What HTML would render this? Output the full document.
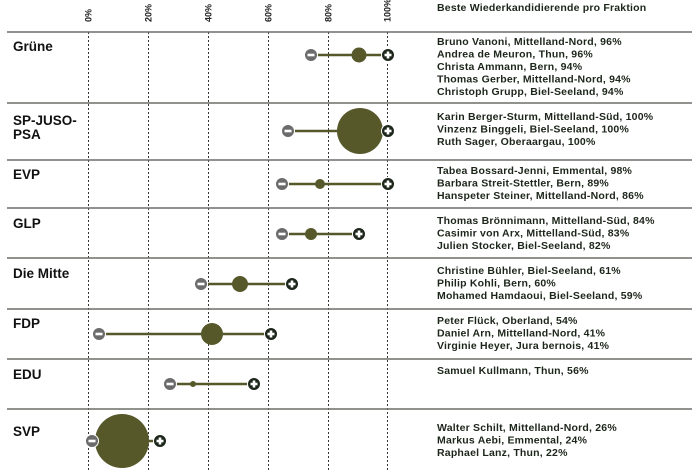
<!DOCTYPE html>
<html><head><meta charset="utf-8"><style>
html,body{margin:0;padding:0;background:#fff;}
svg{display:block;font-family:"Liberation Sans",sans-serif;}
.p{font-size:13.5px;font-weight:bold;fill:#111;}
.n{font-size:10.5px;font-weight:bold;fill:#1d261b;letter-spacing:0.2px;}
.ax{font-size:9px;font-weight:bold;fill:#222;}
</style></head><body>
<svg width="699" height="475" viewBox="0 0 699 475">
<g stroke="#333" stroke-width="1" stroke-dasharray="2,2">
<line x1="88.5" y1="32" x2="88.5" y2="472"/>
<line x1="148.5" y1="32" x2="148.5" y2="472"/>
<line x1="208.5" y1="32" x2="208.5" y2="472"/>
<line x1="268.5" y1="32" x2="268.5" y2="472"/>
<line x1="328.5" y1="32" x2="328.5" y2="472"/>
<line x1="387.5" y1="32" x2="387.5" y2="472"/>
</g>
<g stroke="#6b6f68" stroke-width="1.5">
<line x1="7" y1="32" x2="692" y2="32"/>
<line x1="7" y1="103" x2="692" y2="103"/>
<line x1="7" y1="160" x2="692" y2="160"/>
<line x1="7" y1="208" x2="692" y2="208"/>
<line x1="7" y1="258" x2="692" y2="258"/>
<line x1="7" y1="309" x2="692" y2="309"/>
<line x1="7" y1="359" x2="692" y2="359"/>
<line x1="7" y1="409" x2="692" y2="409"/>
</g>
<g class="ax">
<text transform="translate(91.5,22) rotate(-90)">0%</text>
<text transform="translate(151.5,22) rotate(-90)">20%</text>
<text transform="translate(211.5,22) rotate(-90)">40%</text>
<text transform="translate(271.5,22) rotate(-90)">60%</text>
<text transform="translate(331.5,22) rotate(-90)">80%</text>
<text transform="translate(390.5,22) rotate(-90)">100%</text>
</g>
<text x="437" y="11" class="n" fill="#2a3327">Beste Wiederkandidierende pro Fraktion</text>
<g class="p">
<text x="13" y="51">Grüne</text>
<text x="13" y="125">SP-JUSO-</text>
<text x="13" y="139">PSA</text>
<text x="13" y="179">EVP</text>
<text x="13" y="228">GLP</text>
<text x="13" y="278">Die Mitte</text>
<text x="13" y="328">FDP</text>
<text x="13" y="379">EDU</text>
<text x="13" y="436">SVP</text>
</g>
<defs>
<g id="mn"><circle r="6.5" fill="#6b6b6b" stroke="#fff" stroke-width="1"/><rect x="-3.5" y="-1.3" width="7" height="2.6" fill="#fff"/></g>
<g id="pl"><circle r="6.5" fill="#1d261b" stroke="#fff" stroke-width="1"/><rect x="-3.5" y="-1.3" width="7" height="2.6" fill="#fff"/><rect x="-1.3" y="-3.5" width="2.6" height="7" fill="#fff"/></g>
</defs>
<g stroke="#56582a" stroke-width="2.5">
<line x1="311" y1="55" x2="388" y2="55"/>
<line x1="288" y1="131" x2="388" y2="131"/>
<line x1="282" y1="184" x2="388" y2="184"/>
<line x1="282" y1="234" x2="359" y2="234"/>
<line x1="201" y1="284" x2="292" y2="284"/>
<line x1="99" y1="334" x2="271" y2="334"/>
<line x1="170" y1="384" x2="254" y2="384"/>
<line x1="92" y1="441" x2="160" y2="441"/>
</g>
<g fill="#56582a">
<circle cx="359" cy="55" r="7.5"/>
<circle cx="360" cy="131" r="23"/>
<circle cx="320" cy="184" r="5"/>
<circle cx="311" cy="234" r="6"/>
<circle cx="240" cy="284" r="8"/>
<circle cx="212" cy="334" r="11"/>
<circle cx="193" cy="384" r="3"/>
<circle cx="122" cy="441" r="27"/>
</g>
<use href="#mn" x="311" y="55"/><use href="#pl" x="388" y="55"/>
<use href="#mn" x="288" y="131"/><use href="#pl" x="388" y="131"/>
<use href="#mn" x="282" y="184"/><use href="#pl" x="388" y="184"/>
<use href="#mn" x="282" y="234"/><use href="#pl" x="359" y="234"/>
<use href="#mn" x="201" y="284"/><use href="#pl" x="292" y="284"/>
<use href="#mn" x="99" y="334"/><use href="#pl" x="271" y="334"/>
<use href="#mn" x="170" y="384"/><use href="#pl" x="254" y="384"/>
<use href="#mn" x="92" y="441"/><use href="#pl" x="160" y="441"/>
<g class="n">
<text x="437" y="45">Bruno Vanoni, Mittelland-Nord, 96%</text>
<text x="437" y="57.5">Andrea de Meuron, Thun, 96%</text>
<text x="437" y="70">Christa Ammann, Bern, 94%</text>
<text x="437" y="82.5">Thomas Gerber, Mittelland-Nord, 94%</text>
<text x="437" y="95">Christoph Grupp, Biel-Seeland, 94%</text>
<text x="437" y="120">Karin Berger-Sturm, Mittelland-Süd, 100%</text>
<text x="437" y="132.5">Vinzenz Binggeli, Biel-Seeland, 100%</text>
<text x="437" y="145">Ruth Sager, Oberaargau, 100%</text>
<text x="437" y="174">Tabea Bossard-Jenni, Emmental, 98%</text>
<text x="437" y="186.5">Barbara Streit-Stettler, Bern, 89%</text>
<text x="437" y="199">Hanspeter Steiner, Mittelland-Nord, 86%</text>
<text x="437" y="224">Thomas Brönnimann, Mittelland-Süd, 84%</text>
<text x="437" y="236.5">Casimir von Arx, Mittelland-Süd, 83%</text>
<text x="437" y="249">Julien Stocker, Biel-Seeland, 82%</text>
<text x="437" y="274">Christine Bühler, Biel-Seeland, 61%</text>
<text x="437" y="286.5">Philip Kohli, Bern, 60%</text>
<text x="437" y="299">Mohamed Hamdaoui, Biel-Seeland, 59%</text>
<text x="437" y="324">Peter Flück, Oberland, 54%</text>
<text x="437" y="336.5">Daniel Arn, Mittelland-Nord, 41%</text>
<text x="437" y="349">Virginie Heyer, Jura bernois, 41%</text>
<text x="437" y="374">Samuel Kullmann, Thun, 56%</text>
<text x="437" y="431">Walter Schilt, Mittelland-Nord, 26%</text>
<text x="437" y="443.5">Markus Aebi, Emmental, 24%</text>
<text x="437" y="456">Raphael Lanz, Thun, 22%</text>
</g>
</svg>
</body></html>
